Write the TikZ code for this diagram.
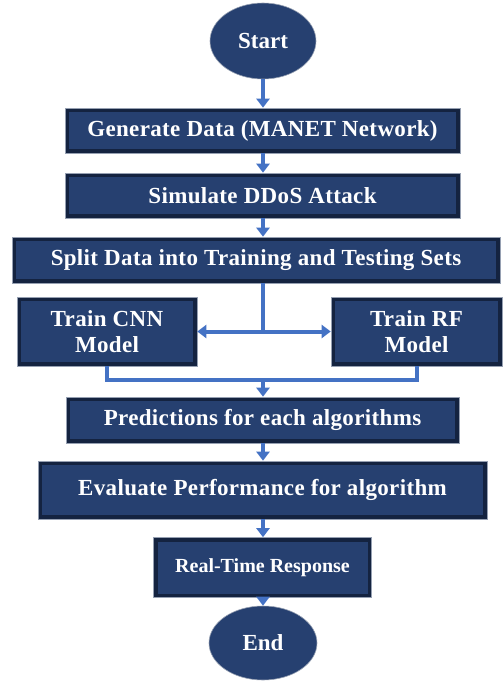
\documentclass[tikz,border=0pt]{standalone}
\usepackage{fontspec}
\setmainfont{Liberation Serif}
\usetikzlibrary{shapes.geometric,arrows.meta}

\definecolor{boxnavy}{RGB}{38,64,112}
\definecolor{boxedge}{RGB}{20,35,64}
\definecolor{boxrim}{RGB}{150,160,178}
\definecolor{flowblue}{RGB}{68,114,196}

\tikzset{
  stepbox/.style={rectangle, draw=boxrim, line width=0.6pt, fill=boxnavy,
    text=white, font=\fontsize{23}{26}\selectfont\bfseries\addfontfeature{LetterSpace=1.5}, align=center,
    inner sep=0pt,
    path picture={\draw[boxedge, line width=8pt]
      (path picture bounding box.south west) rectangle (path picture bounding box.north east);}},
  termbox/.style={ellipse, draw=boxrim, line width=0.6pt, fill=boxnavy,
    text=white, font=\fontsize{23}{26}\selectfont\bfseries, inner sep=0pt},
  flow/.style={-{Triangle[width=13pt,length=9pt]}, line width=4pt, flowblue},
  flowline/.style={line width=4pt, flowblue}
}

\begin{document}
\begin{tikzpicture}[x=1pt, y=-1pt]
    \useasboundingbox (0,0) rectangle (503,681);

    % terminals and steps
    \node[termbox, minimum width=106pt, minimum height=76pt] (start) at (263,41) {Start};
    \node[stepbox, minimum width=395pt, minimum height=45pt] (gen) at (262.5,130.5) {Generate Data (MANET Network)};
    \node[stepbox, minimum width=395pt, minimum height=45pt] (sim) at (262.5,195.5) {Simulate DDoS Attack};
    \node[stepbox, minimum width=488pt, minimum height=46pt] (split) at (256,260) {Split Data into Training and Testing Sets};
    \node[stepbox, minimum width=180pt, minimum height=69pt] (cnn) at (107,331.5) {Train CNN\\Model};
    \node[stepbox, minimum width=171pt, minimum height=69pt] (rf) at (416.5,331.5) {Train RF\\Model};
    \node[stepbox, minimum width=393pt, minimum height=46pt] (pred) at (262.5,420) {Predictions for each algorithms};
    \node[stepbox, minimum width=449pt, minimum height=58pt] (eval) at (262.5,490) {Evaluate Performance for algorithm};
    \node[stepbox, minimum width=218pt, minimum height=60pt, font=\fontsize{20}{23}\selectfont\bfseries] (rt) at (262.5,567.5) {Real-Time Response};
    \node[termbox, minimum width=108pt, minimum height=74pt] (end) at (263,643) {End};

    \coordinate (fork) at (263,331.5);
    \coordinate (join) at (263,380);

    % connectors
    \draw[flow] (start.south) -- (start.south |- gen.north);
    \draw[flow] (gen.south -| start.south) -- (sim.north -| start.south);
    \draw[flow] (sim.south -| start.south) -- (split.north -| start.south);
    \draw[flowline] (split.south -| fork) -- (fork);
    \draw[flow] (fork) -- (cnn.east);
    \draw[flow] (fork) -- (rf.west);
    \draw[flowline] (cnn.south) -- (cnn.south |- join) -- (rf.south |- join) -- (rf.south);
    \draw[flow] (join) -- (join |- pred.north);
    \draw[flow] (pred.south -| join) -- (eval.north -| join);
    \draw[flow] (eval.south -| join) -- (rt.north -| join);
    \draw[flow] (rt.south -| join) -- (end.north);
\end{tikzpicture}
\end{document}
